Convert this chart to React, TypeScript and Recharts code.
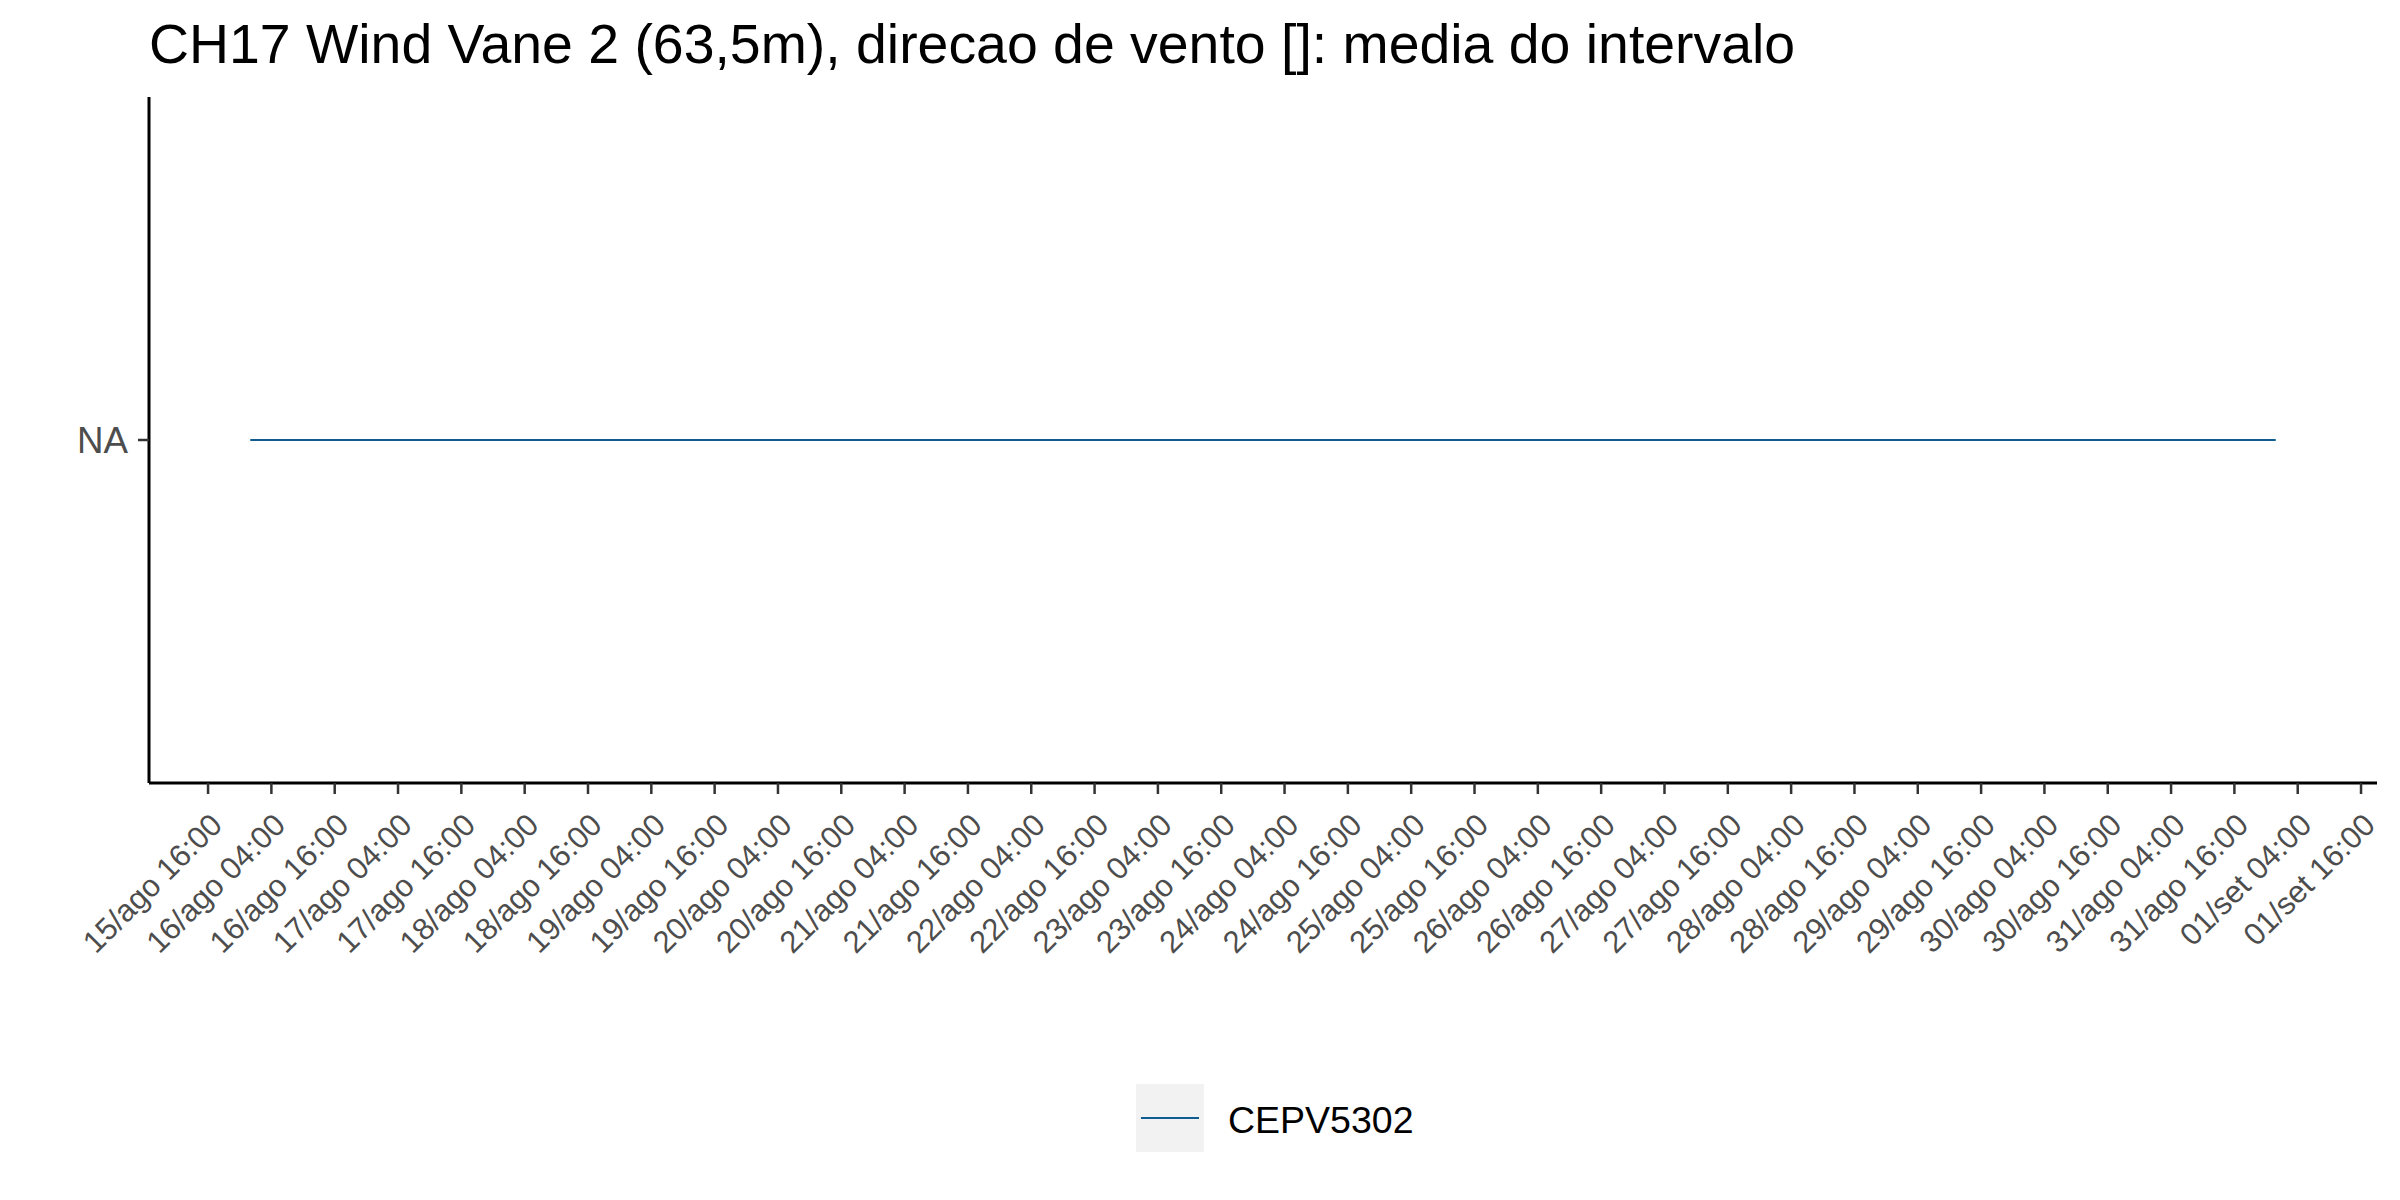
import { LineChart, Line, XAxis, YAxis, Legend } from "recharts";

const FONT = "'Liberation Sans', Arial, Helvetica, sans-serif";
const TITLE = "CH17 Wind Vane 2 (63,5m), direcao de vento []: media do intervalo";
const SERIES_NAME = "CEPV5302";
const LINE_COLOR = "#105C90";

// meses em portugues para os rotulos do eixo x
const MONTHS_PT = ["jan", "fev", "mar", "abr", "mai", "jun", "jul", "ago", "set", "out", "nov", "dez"];

// serie: so valores NA do inicio ao fim do periodo
const TIMES = [Date.UTC(2019, 7, 16, 0, 0), Date.UTC(2019, 7, 31, 23, 50)];
const VALUES = ["NA", "NA"];

// categorias do eixo y
const Y_CATEGORIES = ["NA"];

// quebras do eixo x: a cada 12h, de 15/ago 16:00 ate 01/set 16:00
const TICK_FIRST = Date.UTC(2019, 7, 15, 16, 0);
const TICK_LAST = Date.UTC(2019, 8, 1, 16, 0);
const TICK_STEP = 12 * 3600 * 1000;
const TICKS: number[] = [];
for (let t = TICK_FIRST; t <= TICK_LAST; t += TICK_STEP) TICKS.push(t);

const data = TIMES.map((t, i) => ({ t, value: VALUES[i] }));

// expansao de 5% como no ggplot
const span = TIMES[TIMES.length - 1] - TIMES[0];
const X_DOMAIN = [TIMES[0] - span * 0.05, TIMES[TIMES.length - 1] + span * 0.05];

const pad = (n: number) => String(n).padStart(2, "0");
const fmtTime = (v: number) => {
  const d = new Date(v);
  return `${pad(d.getUTCDate())}/${MONTHS_PT[d.getUTCMonth()]} ${pad(d.getUTCHours())}:${pad(d.getUTCMinutes())}`;
};

const XTick = ({ x, y, payload }: any) => (
  <g transform={`translate(${x},${y})`}>
    <text
      x={0}
      y={0}
      dy="0.72em"
      textAnchor="end"
      transform="rotate(-45)"
      fill="#4D4D4D"
      fontSize={31}
      fontFamily={FONT}
    >
      {fmtTime(payload.value)}
    </text>
  </g>
);

const LegendContent = () => (
  <svg width={300} height={68} style={{ display: "block" }}>
    <rect x={0} y={0} width={68} height={68} fill="#F2F2F2" />
    <line x1={5} x2={63} y1={34} y2={34} stroke={LINE_COLOR} strokeWidth={2} />
    <text x={92} y={49} fontSize={37.5} fontFamily={FONT} fill="#000">
      {SERIES_NAME}
    </text>
  </svg>
);

export default function App() {
  return (
    <div style={{ position: "absolute", left: 0, top: 0, width: 2400, height: 1200, background: "#fff" }}>
      <div
        style={{
          position: "absolute",
          left: 149,
          top: 16.5,
          fontFamily: FONT,
          fontSize: 55.4,
          lineHeight: "55.4px",
          whiteSpace: "nowrap",
          color: "#000",
        }}
      >
        {TITLE}
      </div>
      <LineChart
        width={2400}
        height={1200}
        data={data}
        margin={{ top: 97, right: 23, left: 0, bottom: 48 }}
      >
        <XAxis
          dataKey="t"
          type="number"
          domain={X_DOMAIN}
          ticks={TICKS}
          interval={0}
          height={301}
          tick={<XTick />}
          tickSize={11}
          tickMargin={17}
          tickLine={{ stroke: "#333333", strokeWidth: 2.5 }}
          axisLine={{ stroke: "#000", strokeWidth: 3 }}
        />
        <YAxis
          dataKey="value"
          type="category"
          scale="point"
          domain={Y_CATEGORIES}
          width={149}
          tickSize={11}
          tickMargin={10}
          tick={{ fill: "#4D4D4D", fontSize: 36.7, fontFamily: FONT }}
          tickLine={{ stroke: "#333333", strokeWidth: 2.5 }}
          axisLine={{ stroke: "#000", strokeWidth: 3 }}
        />
        <Legend
          verticalAlign="bottom"
          content={<LegendContent />}
          wrapperStyle={{ left: 1136, width: 300, height: 68 }}
        />
        <Line
          dataKey="value"
          name={SERIES_NAME}
          stroke={LINE_COLOR}
          strokeWidth={2}
          dot={false}
          activeDot={false}
          isAnimationActive={false}
        />
      </LineChart>
    </div>
  );
}
